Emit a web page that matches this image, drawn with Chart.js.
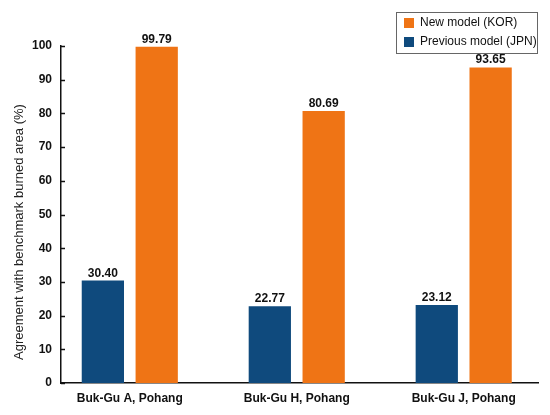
<!DOCTYPE html>
<html>
<head>
<meta charset="utf-8">
<script src="https://cdn.jsdelivr.net/npm/chart.js@4.4.0/dist/chart.umd.min.js"></script>
<style>
    html, body { margin: 0; padding: 0; background: #fff; }
    #wrap { width: 550px; height: 415px; }
</style>
</head>
<body>
<div id="wrap"><canvas id="myChart" width="550" height="415"></canvas></div>
<script>
const sites = ['Buk-Gu A, Pohang', 'Buk-Gu H, Pohang', 'Buk-Gu J, Pohang'];
const previousModel = [30.40, 22.77, 23.12];
const newModel = [99.79, 80.69, 93.65];
const yTicks = [0, 10, 20, 30, 40, 50, 60, 70, 80, 90, 100];
const yTitle = 'Agreement with benchmark burned area (%)';

const BLUE = '#0f4a7d';
const ORANGE = '#ef7415';
const FONT = "'Liberation Sans', Arial, sans-serif";

// boxed legend inside the plot, newest model first
const boxLegend = {
    id: 'boxLegend',
    afterDraw(chart) {
        const ctx = chart.ctx;
        const items = chart.data.datasets.slice().reverse();
        ctx.save();
        ctx.fillStyle = '#fff';
        ctx.fillRect(396, 12, 141, 41);
        ctx.strokeStyle = '#666';
        ctx.lineWidth = 1;
        ctx.strokeRect(396.5, 12.5, 141, 41);
        ctx.font = '12px ' + FONT;
        ctx.textBaseline = 'middle';
        ctx.textAlign = 'left';
        items.forEach((ds, i) => {
            const cy = 23 + i * 19;
            ctx.fillStyle = ds.backgroundColor;
            ctx.fillRect(404, cy - 5, 10, 10);
            ctx.fillStyle = '#111';
            ctx.fillText(ds.label, 420, cy);
        });
        ctx.restore();
    }
};

// bar values on top
const valueLabels = {
    id: 'valueLabels',
    afterDraw(chart) {
        const ctx = chart.ctx;
        ctx.save();
        ctx.font = 'bold 12px ' + FONT;
        ctx.fillStyle = '#111';
        ctx.textAlign = 'center';
        ctx.textBaseline = 'alphabetic';
        chart.data.datasets.forEach((ds, i) => {
            chart.getDatasetMeta(i).data.forEach((bar, j) => {
                ctx.fillText(ds.data[j].y.toFixed(2), bar.x, bar.y - 4);
            });
        });
        ctx.restore();
    }
};

// short inward ticks on the y axis and the axis title
const yAxisExtras = {
    id: 'yAxisExtras',
    afterDraw(chart) {
        const ctx = chart.ctx;
        const y = chart.scales.y;
        ctx.save();
        ctx.strokeStyle = '#111';
        ctx.lineWidth = 1.5;
        yTicks.forEach(v => {
            const py = Math.round(y.getPixelForValue(v)) + 0.5;
            ctx.beginPath();
            ctx.moveTo(y.right, py);
            ctx.lineTo(y.right + 4, py);
            ctx.stroke();
        });
        ctx.translate(19, 232);
        ctx.rotate(-Math.PI / 2);
        ctx.font = '13px ' + FONT;
        ctx.fillStyle = '#222';
        ctx.textAlign = 'center';
        ctx.textBaseline = 'middle';
        ctx.fillText(yTitle, 0, 0);
        ctx.restore();
    }
};

function createChart() {
    const ctx = document.getElementById('myChart').getContext('2d');
    return new Chart(ctx, {
        type: 'bar',
        data: {
            datasets: [
                {
                    label: 'Previous model (JPN)',
                    backgroundColor: BLUE,
                    data: previousModel.map((v, i) => ({ x: i, y: v })),
                },
                {
                    label: 'New model (KOR)',
                    backgroundColor: ORANGE,
                    data: newModel.map((v, i) => ({ x: i, y: v })),
                }
            ]
        },
        plugins: [boxLegend, valueLabels, yAxisExtras],
        options: {
            responsive: false,
            animation: false,
            categoryPercentage: 0.645,
            barPercentage: 0.785,
            layout: { padding: { top: 46, right: 12, left: 0, bottom: 0 } },
            plugins: {
                legend: { display: false },
                tooltip: { enabled: false }
            },
            scales: {
                x: {
                    type: 'linear',
                    min: -0.412,
                    max: 2.445,
                    offset: false,
                    grid: { display: false, drawTicks: false },
                    border: { color: '#111', width: 1.5 },
                    afterBuildTicks: scale => {
                        scale.ticks = sites.map((_, i) => ({ value: i }));
                    },
                    ticks: {
                        padding: 8,
                        color: '#111',
                        font: { family: FONT, size: 12, weight: 'bold' },
                        maxRotation: 0,
                        autoSkip: false,
                        callback: v => sites[v]
                    },
                    afterFit: scale => { scale.height = 32; }
                },
                y: {
                    min: 0,
                    max: 100,
                    grid: { display: false, drawTicks: false },
                    border: { color: '#111', width: 1.5 },
                    afterBuildTicks: scale => {
                        scale.ticks = yTicks.map(v => ({ value: v }));
                    },
                    ticks: {
                        padding: 9,
                        color: '#111',
                        font: { family: FONT, size: 12, weight: 'bold' }
                    },
                    afterFit: scale => { scale.width = 61; }
                }
            }
        }
    });
}

let chart = createChart();
</script>
</body>
</html>
